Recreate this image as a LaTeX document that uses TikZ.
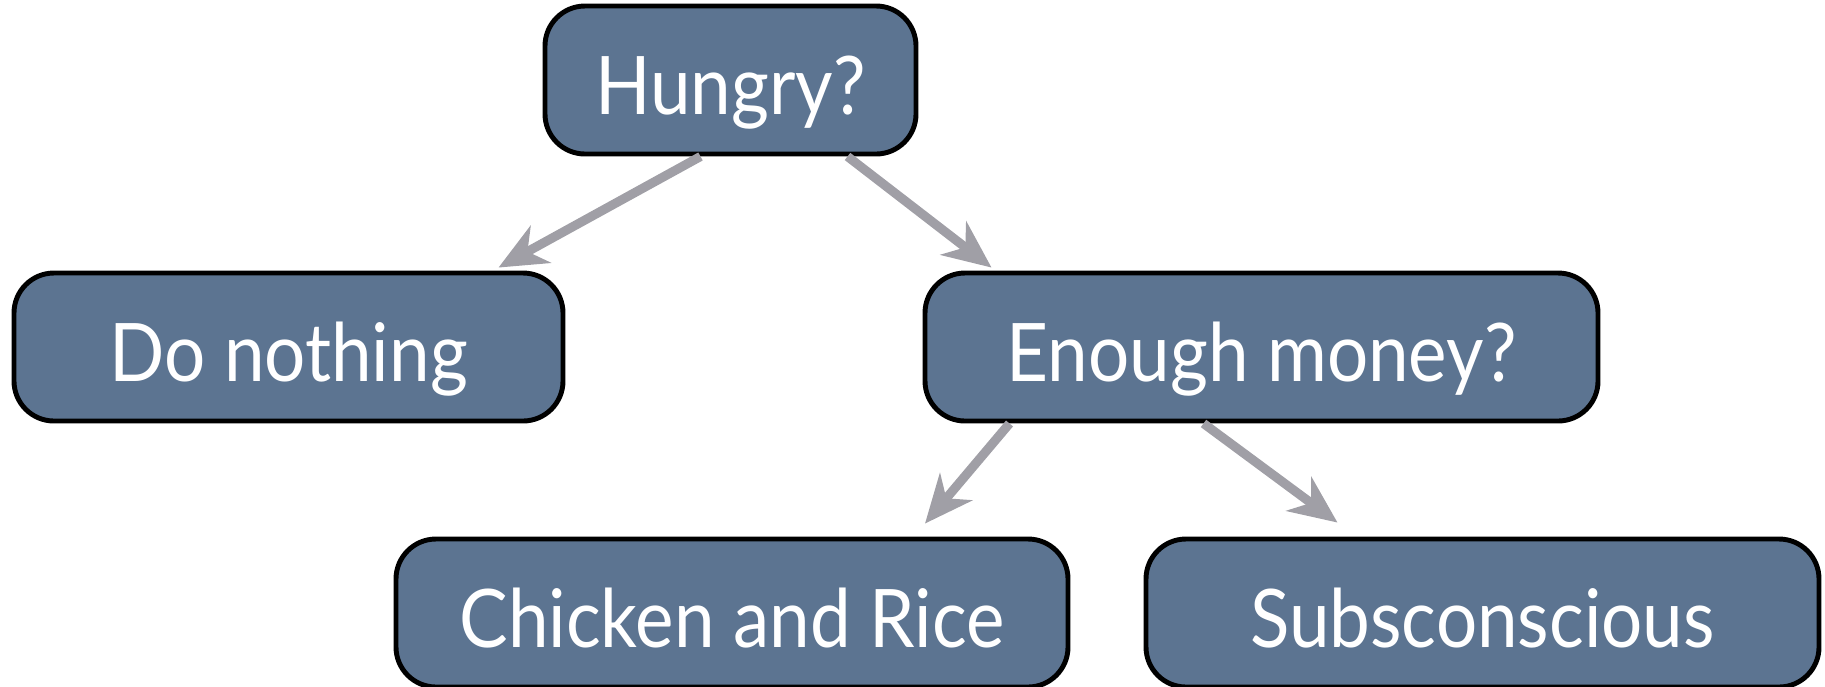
\documentclass[tikz,border=0pt]{standalone}
\usepackage{fontspec}
\setmainfont[FakeStretch=0.9]{Lato}
\usetikzlibrary{arrows.meta}
\definecolor{boxblue}{RGB}{92,116,145}
\definecolor{arrowgray}{RGB}{160,159,166}

\begin{document}
\begin{tikzpicture}[
    box/.style={draw=black,line width=1.4pt,fill=boxblue,rounded corners=0.4cm,
                minimum height=1.48cm,text height=0.8cm,text depth=0.12cm,
                text=white,font=\fontsize{23}{26}\selectfont},
    arr/.style={draw=arrowgray,line width=2.6pt,
                -{Stealth[length=0.48cm,width=0.42cm,inset=0.15cm]}}]
  \useasboundingbox (0,0) rectangle (18.25,-6.86);
  \node[box,minimum width=3.71cm] (hungry)  at (7.305,-0.80)  {Hungry?};
  \node[box,minimum width=5.49cm] (nothing) at (2.885,-3.47)  {Do nothing};
  \node[box,minimum width=6.73cm] (money)   at (12.615,-3.47) {Enough money?};
  \node[box,minimum width=6.72cm] (chicken) at (7.32,-6.13)   {Chicken and Rice};
  \node[box,minimum width=6.73cm] (subcon)  at (14.825,-6.13) {Subsconscious};
  % yes / no branches
  \draw[arr] ([xshift=-0.30cm]hungry.south) -- ([xshift=2.10cm,yshift=0.03cm]nothing.north);
  \draw[arr] ([xshift=1.17cm]hungry.south)  -- ([xshift=-2.70cm,yshift=0.03cm]money.north);
  \draw[arr] ([xshift=-2.52cm]money.south)  -- ([xshift=1.93cm,yshift=0.13cm]chicken.north);
  \draw[arr] ([xshift=-0.58cm]money.south)  -- ([xshift=-1.45cm,yshift=0.14cm]subcon.north);
\end{tikzpicture}
\end{document}
